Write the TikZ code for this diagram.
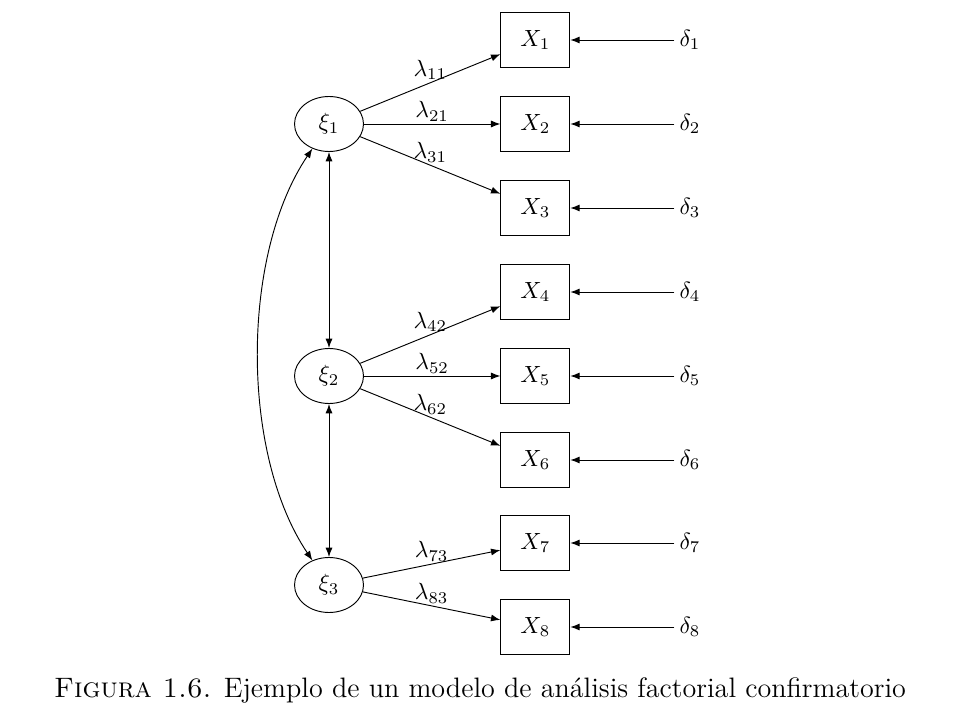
\documentclass[tikz,border=0pt]{standalone}
\usepackage{tikz}
\usetikzlibrary{shapes.geometric, arrows.meta, positioning}

\begin{document}
\begin{tikzpicture}[
    manifest/.style={draw, rectangle, minimum width=1.035cm, minimum height=0.825cm, inner sep=0pt},
    latent/.style={draw, ellipse, minimum width=1.035cm, minimum height=0.825cm, inner sep=0pt},
    errlabel/.style={inner sep=2pt},
    lbl/.style={midway, above=0pt, inner sep=1pt},
    load/.style={-{Latex[length=4pt, width=3pt]}, thin},
    corr/.style={{Latex[length=4pt, width=3pt]}-{Latex[length=4pt, width=3pt]}, thin}
]
    \useasboundingbox (0,0) rectangle (14.4,-10.8);

    % Factors
    \node[latent] (xi1) at (4.935, -1.86) {$\xi_1$};
    \node[latent] (xi2) at (4.935, -5.64) {$\xi_2$};
    \node[latent] (xi3) at (4.935, -8.775) {$\xi_3$};

    % Indicators
    \node[manifest] (x1) at (8.03, -0.6) {$X_1$};
    \node[manifest] (x2) at (8.03, -1.86) {$X_2$};
    \node[manifest] (x3) at (8.03, -3.12) {$X_3$};
    \node[manifest] (x4) at (8.03, -4.38) {$X_4$};
    \node[manifest] (x5) at (8.03, -5.64) {$X_5$};
    \node[manifest] (x6) at (8.03, -6.9) {$X_6$};
    \node[manifest] (x7) at (8.03, -8.145) {$X_7$};
    \node[manifest] (x8) at (8.03, -9.405) {$X_8$};

    % Errors
    \node[errlabel] (d1) at (10.35, -0.6) {$\delta_1$};
    \node[errlabel] (d2) at (10.35, -1.86) {$\delta_2$};
    \node[errlabel] (d3) at (10.35, -3.12) {$\delta_3$};
    \node[errlabel] (d4) at (10.35, -4.38) {$\delta_4$};
    \node[errlabel] (d5) at (10.35, -5.64) {$\delta_5$};
    \node[errlabel] (d6) at (10.35, -6.9) {$\delta_6$};
    \node[errlabel] (d7) at (10.35, -8.145) {$\delta_7$};
    \node[errlabel] (d8) at (10.35, -9.405) {$\delta_8$};

    % Caption
    \node[font=\large] (cap) at (7.2, -10.35) {\textsc{Figura 1.6.} Ejemplo de un modelo de análisis factorial confirmatorio};

    % Loadings
    \draw[load] (xi1) -- (x1) node[lbl] {$\lambda_{11}$};
    \draw[load] (xi1) -- (x2) node[lbl] {$\lambda_{21}$};
    \draw[load] (xi1) -- (x3) node[lbl] {$\lambda_{31}$};
    \draw[load] (xi2) -- (x4) node[lbl] {$\lambda_{42}$};
    \draw[load] (xi2) -- (x5) node[lbl] {$\lambda_{52}$};
    \draw[load] (xi2) -- (x6) node[lbl] {$\lambda_{62}$};
    \draw[load] (xi3) -- (x7) node[lbl] {$\lambda_{73}$};
    \draw[load] (xi3) -- (x8) node[lbl] {$\lambda_{83}$};

    % Error terms
    \draw[load] (d1) -- (x1);
    \draw[load] (d2) -- (x2);
    \draw[load] (d3) -- (x3);
    \draw[load] (d4) -- (x4);
    \draw[load] (d5) -- (x5);
    \draw[load] (d6) -- (x6);
    \draw[load] (d7) -- (x7);
    \draw[load] (d8) -- (x8);

    % Correlations
    \draw[corr] (xi1) -- (xi2);
    \draw[corr] (xi2) -- (xi3);
    \draw[corr] (xi1) to[bend right=34, looseness=0.8] (xi3);

\end{tikzpicture}
\end{document}
